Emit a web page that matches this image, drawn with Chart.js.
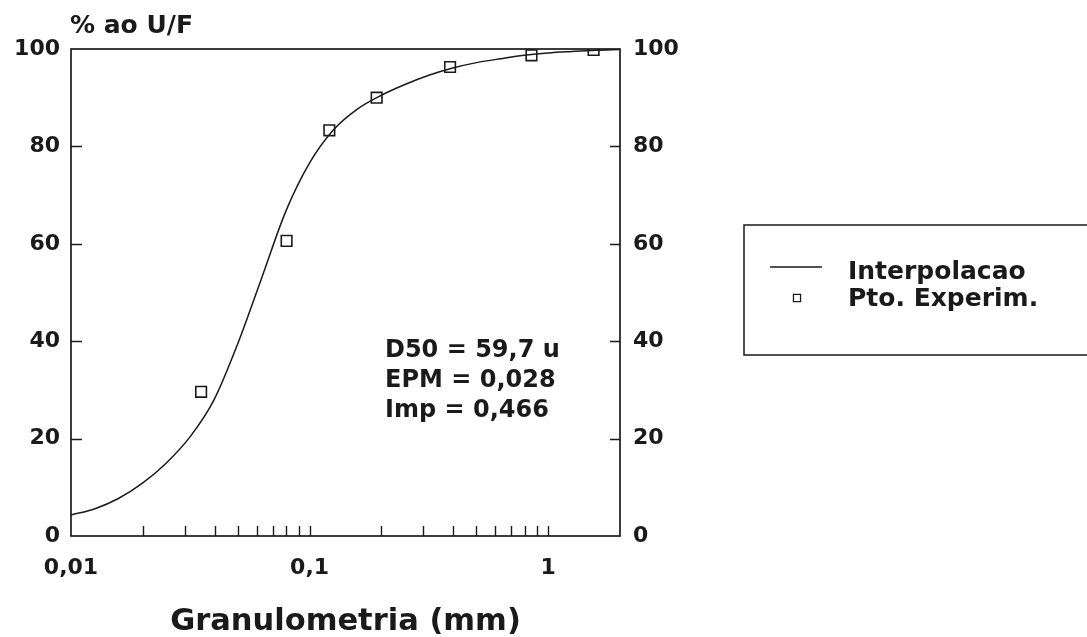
<!DOCTYPE html>
<html>
<head>
<meta charset="utf-8">
<script src="https://cdn.jsdelivr.net/npm/chart.js@4.4.1/dist/chart.umd.min.js"></script>
<style>
    html, body { margin: 0; padding: 0; background: #fff; }
    #wrap { width: 1087px; height: 637px; position: relative; }
</style>
</head>
<body>
<div id="wrap"><canvas id="granChart"></canvas></div>
<script>
// Curva interpolada (passos iguais em log)
const curveX = [0.01, 0.0126, 0.0158, 0.02, 0.0251, 0.0316, 0.0398, 0.0501, 0.0631, 0.0794,
                0.1, 0.126, 0.158, 0.2, 0.251, 0.316, 0.398, 0.501, 0.631, 0.794, 1, 1.26, 1.58, 2];
const curveY = [4.3, 5.6, 7.7, 10.9, 15.0, 20.4, 28.0, 39.6, 53.1, 66.6,
                76.6, 83.4, 87.6, 90.5, 92.7, 94.6, 96.1, 97.2, 98.0, 98.7, 99.2, 99.5, 99.75, 99.9];

// Pontos experimentais
const expX = [0.0351, 0.0801, 0.121, 0.191, 0.388, 0.851, 1.55];
const expY = [29.6, 60.6, 83.3, 90.0, 96.3, 98.7, 99.8];

// Eixos
const xTickValues = [0.01, 0.02, 0.03, 0.04, 0.05, 0.06, 0.07, 0.08, 0.09,
                     0.1, 0.2, 0.3, 0.4, 0.5, 0.6, 0.7, 0.8, 0.9, 1, 2];
const xTickLabels = { 0.01: "0,01", 0.1: "0,1", 1: "1" };
const yTicks = [0, 20, 40, 60, 80, 100];

const statsLines = ["D50 = 59,7 u", "EPM = 0,028", "Imp = 0,466"];
const yUnitLabel = "% ao U/F";
const seriesNames = ["Interpolacao", "Pto. Experim."];

const INK = "#1a1a1a";
const FONT = "'DejaVu Sans', sans-serif";

const toPoints = (xs, ys) => xs.map((x, i) => ({ x: x, y: ys[i] }));

// Moldura, marcas internas, textos e legenda
const framePlugin = {
    id: "framePlugin",
    afterDraw(chart) {
        const { ctx, chartArea: a, scales } = chart;
        ctx.save();
        ctx.strokeStyle = INK;
        ctx.lineWidth = 1.7;
        ctx.strokeRect(a.left, a.top, a.right - a.left, a.bottom - a.top);

        // marcas do eixo x, para dentro
        ctx.lineWidth = 1.4;
        ctx.beginPath();
        scales.x.ticks.forEach(t => {
            if (t.value <= 0.01 || t.value >= 2) return;
            const px = Math.round(scales.x.getPixelForValue(t.value)) + 0.5;
            ctx.moveTo(px, a.bottom);
            ctx.lineTo(px, a.bottom - 10);
        });
        // marcas dos eixos y, para dentro
        yTicks.forEach(v => {
            if (v === 0 || v === 100) return;
            const py = Math.round(scales.y.getPixelForValue(v)) + 0.5;
            ctx.moveTo(a.left, py);
            ctx.lineTo(a.left + 11, py);
            ctx.moveTo(a.right, py);
            ctx.lineTo(a.right - 10, py);
        });
        ctx.stroke();

        // unidade do eixo y
        ctx.fillStyle = INK;
        ctx.font = "bold 25px " + FONT;
        ctx.textAlign = "left";
        ctx.textBaseline = "middle";
        ctx.fillText(yUnitLabel, 70, 26);

        // parâmetros
        ctx.font = "bold 24px " + FONT;
        statsLines.forEach((s, i) => ctx.fillText(s, 385, 351 + i * 30));

        // legenda
        ctx.lineWidth = 1.5;
        ctx.strokeRect(744, 225, 400, 130);
        const ds = chart.data.datasets;
        ctx.strokeStyle = ds[0].borderColor;
        ctx.lineWidth = ds[0].borderWidth;
        ctx.beginPath();
        ctx.moveTo(770, 267);
        ctx.lineTo(822, 267);
        ctx.stroke();
        ctx.strokeStyle = ds[1].borderColor;
        ctx.fillStyle = "#fff";
        ctx.lineWidth = 1.3;
        Chart.helpers.drawPoint(ctx, { pointStyle: "rect", radius: 5, borderWidth: 1.3 }, 797, 298);
        ctx.fillStyle = INK;
        ctx.font = "bold 25px " + FONT;
        ctx.fillText(seriesNames[0], 848, 272);
        ctx.fillText(seriesNames[1], 848, 299);
        ctx.restore();
    }
};

const tickFont = { family: FONT, size: 22, weight: "bold" };

new Chart(document.getElementById("granChart"), {
    data: {
        datasets: [
            {
                type: "line",
                label: seriesNames[0],
                data: toPoints(curveX, curveY),
                borderColor: INK,
                borderWidth: 1.5,
                pointRadius: 0,
                cubicInterpolationMode: "monotone",
                fill: false
            },
            {
                type: "scatter",
                label: seriesNames[1],
                data: toPoints(expX, expY),
                pointStyle: "rect",
                pointRadius: 7.5,
                pointBorderWidth: 1.6,
                borderColor: INK,
                backgroundColor: "rgba(255,255,255,0)"
            }
        ]
    },
    options: {
        responsive: true,
        maintainAspectRatio: false,
        animation: false,
        layout: { padding: { left: 0, top: 49, right: 404, bottom: 0 } },
        plugins: {
            legend: { display: false },
            tooltip: { enabled: false }
        },
        scales: {
            x: {
                type: "logarithmic",
                min: 0.01,
                max: 2,
                afterBuildTicks: scale => {
                    scale.ticks = xTickValues.map(v => ({ value: v }));
                },
                afterFit: scale => { scale.height = 101; },
                grid: { display: false, drawTicks: false },
                border: { display: false },
                ticks: {
                    autoSkip: false,
                    maxRotation: 0,
                    padding: 19,
                    color: INK,
                    font: tickFont,
                    callback: v => xTickLabels[v] || ""
                },
                title: {
                    display: true,
                    text: "Granulometria (mm)",
                    color: INK,
                    font: { family: FONT, size: 30.5, weight: "bold", lineHeight: 1 },
                    padding: { top: 0, bottom: 0 }
                }
            },
            y: {
                position: "left",
                min: 0,
                max: 100,
                afterBuildTicks: scale => {
                    scale.ticks = yTicks.map(v => ({ value: v }));
                },
                afterFit: scale => { scale.width = 71; },
                grid: { display: false, drawTicks: false },
                border: { display: false },
                ticks: { padding: 11, color: INK, font: tickFont }
            },
            y2: {
                position: "right",
                min: 0,
                max: 100,
                afterBuildTicks: scale => {
                    scale.ticks = yTicks.map(v => ({ value: v }));
                },
                afterFit: scale => { scale.width = 63; },
                grid: { display: false, drawTicks: false },
                border: { display: false },
                ticks: { padding: 13, color: INK, font: tickFont }
            }
        }
    },
    plugins: [framePlugin]
});
</script>
</body>
</html>
